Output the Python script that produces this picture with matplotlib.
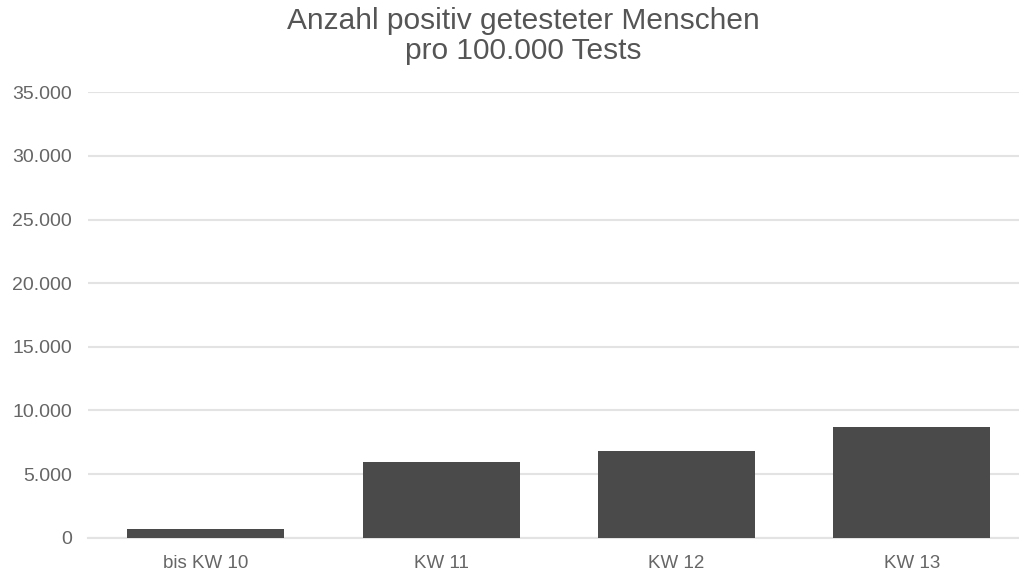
import matplotlib
matplotlib.use("Agg")
import matplotlib.pyplot as plt
from matplotlib.ticker import FuncFormatter

categories = ["bis KW 10", "KW 11", "KW 12", "KW 13"]
values = [680, 5940, 6830, 8670]
yticks = [0, 5000, 10000, 15000, 20000, 25000, 30000, 35000]

plt.rcParams['font.family'] = ['Liberation Sans', 'DejaVu Sans']

W, H = 1019, 573
fig = plt.figure(figsize=(W / 100, H / 100), dpi=100)
left = 88 / W
right = 1029.6 / W
bottom = 1 - 537.7 / H
top = 1 - 92.3 / H
ax = fig.add_axes([left, bottom, right - left, top - bottom])

x = range(len(categories))
ax.bar(x, values, width=0.667, color="#4a4a4a", zorder=3)
ax.set_xlim(-0.5, 3.5)
ax.set_ylim(0, 35000)
ax.set_yticks(yticks)
ax.yaxis.set_major_formatter(FuncFormatter(lambda v, p: f"{int(v):,}".replace(",", ".")))
ax.set_xticks(list(x))
ax.set_xticklabels(categories)

ax.grid(axis="y", color="#e3e3e3", linewidth=1.5, zorder=0)
for s in ["top", "right", "left"]:
    ax.spines[s].set_visible(False)
ax.spines["bottom"].set_color("#e3e3e3")
ax.spines["bottom"].set_linewidth(1.5)
ax.tick_params(axis="both", length=0, colors="#666666")
ax.tick_params(axis="y", pad=11.5, labelsize=14)
ax.tick_params(axis="x", pad=12.5, labelsize=13.5)

fig.text(523.5 / W, 1 - 21 / H, "Anzahl positiv getesteter Menschen", ha="center", va="center",
         fontsize=21.5, color="#555555")
fig.text(523.5 / W, 1 - 51 / H, "pro 100.000 Tests", ha="center", va="center",
         fontsize=21.5, color="#555555")

fig.savefig("out.png", dpi=100)
